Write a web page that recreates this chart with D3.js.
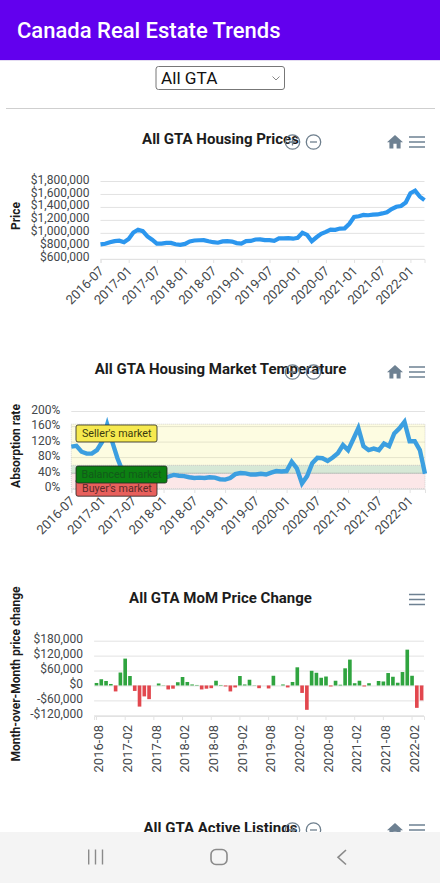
<!DOCTYPE html>
<html><head><meta charset="utf-8">
<script src="https://cdnjs.cloudflare.com/ajax/libs/d3/7.8.5/d3.min.js"></script>
<style>
html,body{margin:0;padding:0;background:#fff;overflow:hidden;width:440px;height:883px}
svg{display:block}
text{font-family:Roboto,sans-serif}
</style></head><body><svg id="c" width="440" height="883"></svg>
<script>
const appTitle="Canada Real Estate Trends", regionLabel="All GTA";
const priceMonths=["2016-07","2016-08","2016-09","2016-10","2016-11","2016-12","2017-01","2017-02","2017-03","2017-04","2017-05","2017-06","2017-07","2017-08","2017-09","2017-10","2017-11","2017-12","2018-01","2018-02","2018-03","2018-04","2018-05","2018-06","2018-07","2018-08","2018-09","2018-10","2018-11","2018-12","2019-01","2019-02","2019-03","2019-04","2019-05","2019-06","2019-07","2019-08","2019-09","2019-10","2019-11","2019-12","2020-01","2020-02","2020-03","2020-04","2020-05","2020-06","2020-07","2020-08","2020-09","2020-10","2020-11","2020-12","2021-01","2021-02","2021-03","2021-04","2021-05","2021-06","2021-07","2021-08","2021-09","2021-10","2021-11","2021-12","2022-01","2022-02","2022-03","2022-04"];
const lineTicks=["2016-07","2017-01","2017-07","2018-01","2018-07","2019-01","2019-07","2020-01","2020-07","2021-01","2021-07","2022-01"];
const barTicks=["2016-08","2017-02","2017-08","2018-02","2018-08","2019-02","2019-08","2020-02","2020-08","2021-02","2021-08","2022-02"];
const prices=[822,832,855,873,879,855,907,1005,1048,1026,946,895,835,835,846,845,825,815,830,868,882,886,888,870,856,848,868,872,866,842,834,872,876,898,900,888,888,876,914,914,918,910,925,1000,968,872,932,984,1014,1050,1046,1066,1070,1140,1244,1256,1276,1272,1282,1284,1300,1318,1368,1402,1415,1468,1612,1650,1560,1505];
const absorption=[108,110,95,90,90,99,120,165,120,78,45,30,28,26,25,26,24,25,27,31,35,33,32,29,27,28,27,29,28,24,23,27,37,40,39,36,36,38,36,41,45,44,45,69,52,13,32,65,79,78,71,80,91,112,99,127,156,109,99,103,99,116,109,142,155,172,122,122,99,38];
const momMonths=priceMonths.slice(1);
const mom=[10,25,18,6,-24,52,108,38,-22,-85,-44,-55,0,8,1,-16,-13,13,34,14,4,2,-16,-13,-11,19,2,-4,-24,-8,38,4,23,1,-11,0,-12,39,0,4,-8,14,73,-30,-98,59,51,31,36,-4,19,3,69,104,9,19,-4,9,0,18,16,50,35,11,54,144,39,-90,-60];
const priceTicks=[600000,800000,1000000,1200000,1400000,1600000,1800000];
const absTicks=[0,40,80,120,160,200];
const momTicks=[-120000,-60000,0,60000,120000,180000];
const bandNames=["Buyer's market","Balanced market","Seller's market"];
const bandLow=[0,39,60];
const bandHigh=[39,60,166];
const bandFill=["#fbe3e4","#cfe4cf","#fdfbdc"];
const labelFill=["#e8605c","#0c8012","#f6e94f"];

const svg=d3.select("#c");
const GRID="#e2e2e2", LABEL="#44484b", ICON="#6e8192";
const money=d=>(d<0?"-":"")+"$"+d3.format(",")(Math.abs(d));

svg.append("rect").attr("width",440).attr("height",60).attr("fill","#6200ee");
svg.append("rect").attr("y",60).attr("width",440).attr("height",1).attr("fill","#e4dcf2");
svg.append("text").attr("x",17).attr("y",38).attr("fill","#fff").attr("font-size",22).attr("font-weight",500).text(appTitle);
svg.append("rect").attr("x",156).attr("y",66.5).attr("width",128.5).attr("height",23).attr("rx",2.5).attr("fill","#fff").attr("stroke","#777");
svg.append("text").attr("x",161).attr("y",84).attr("font-size",17.2).attr("fill","#111").text(regionLabel);
svg.append("path").attr("d","M272.5 76.5l3.5 3.5 3.5-3.5").attr("fill","none").attr("stroke","#888");
svg.append("rect").attr("x",6).attr("y",108).attr("width",429).attr("height",1).attr("fill","#cfcfcf");

function icons(y,zoom,home){
  if(zoom){
    [292.5,313.5].forEach((x,i)=>{
      const g=svg.append("g").attr("transform",`translate(${x},${y})`).attr("fill","none").attr("stroke","#6e7f8d").attr("stroke-width",1.3);
      g.append("circle").attr("r",7.2);
      g.append("path").attr("d",i==0?"M-3.5 0H3.5M0 -3.5V3.5":"M-3.5 0H3.5");
    });
  }
  if(home) svg.append("path").attr("transform",`translate(385.4,${y-9.4}) scale(.8)`).attr("d","M10 20v-6h4v6h5v-8h3L12 3 2 12h3v8z").attr("fill",ICON);
  svg.append("path").attr("d",`M409 ${y-5}H425M409 ${y}H425M409 ${y+5}H425`).attr("stroke",ICON).attr("stroke-width",1.5);
}
function texts(title,x,y,ax,ay){
  svg.append("text").attr("x",x).attr("y",y).attr("text-anchor","middle").attr("font-size",15).attr("font-weight",700).attr("fill","#1c1c1c").text(title);
  if(ax) svg.append("text").attr("transform",`translate(20,${ay}) rotate(-90)`).attr("text-anchor","middle").attr("font-size",12).attr("font-weight",700).attr("fill","#1c1c1c").text(ax);
}
function yAxis(y,ticks,fmt,x0,x1,ly){
  const g=svg.append("g").attr("transform",`translate(${x0},0)`)
    .call(d3.axisLeft(y).tickValues(ticks).tickFormat(fmt).tickSize(-(x1-x0)).tickPadding(ly));
  g.select(".domain").remove();
  g.selectAll("line").attr("stroke",GRID).attr("stroke-width",1);
  g.selectAll("text").attr("font-size",12).attr("fill",LABEL).attr("font-family","Roboto").attr("dy","0.17em");
}
function xAxis(x,ticks,yPos,rot){
  const g=svg.append("g").attr("transform",`translate(0,${yPos})`)
    .call(d3.axisBottom(x).tickValues(ticks).tickSize(4));
  g.select(".domain").attr("stroke",GRID);
  g.selectAll("line").attr("stroke",GRID);
  g.selectAll("text").attr("font-size",13).attr("fill",LABEL).attr("font-family","Roboto")
    .attr("text-anchor","end")
    .attr("transform",rot==45?"translate(1,10) rotate(-45)":"translate(6.7,9) rotate(-90)")
    .attr("x",0).attr("y",0).attr("dy",rot==45?"0.3em":"0");
}
function line(x,y,vals,color,w){
  svg.append("path").datum(vals).attr("fill","none").attr("stroke",color).attr("stroke-width",w)
    .attr("stroke-linejoin","miter").attr("d",d3.line().x((d,i)=>x(priceMonths[i])).y(d=>y(d)));
}

/* Chart 1 */
{
  const x=d3.scalePoint().domain(priceMonths).range([100.5,424.5]);
  const y=d3.scaleLinear().domain([600000,1800000]).range([258.8,181]);
  texts("All GTA Housing Prices",220.5,144,"Price",216);
  yAxis(y,priceTicks,money,100.5,424.5,11);
  xAxis(x,lineTicks,259,45);
  line(x,y,prices.map(d=>d*1000),"#2b96ee",4.2);
  icons(142,true,true);
}
/* Chart 2 */
{
  const x=d3.scalePoint().domain(priceMonths).range([71.3,425]);
  const y=d3.scaleLinear().domain([0,200]).range([488.5,411]);
  texts("All GTA Housing Market Temperature",220.5,374,"Absorption rate",446);
  yAxis(y,absTicks,d=>d+"%",71.3,425,11);
  bandNames.forEach((n,i)=>{
    svg.append("rect").attr("x",71.3).attr("width",353.7).attr("y",y(bandHigh[i])).attr("height",y(bandLow[i])-y(bandHigh[i]))
      .attr("fill",bandFill[i]).attr("fill-opacity",.85).attr("stroke","#bbb").attr("stroke-opacity",.6).attr("stroke-dasharray","1 1");
  });
  absTicks.forEach(t=>{ if(t>0&&t<200) svg.append("rect").attr("x",71.3).attr("width",353.7).attr("y",y(t)-.5).attr("height",1).attr("fill","#000").attr("fill-opacity",.08); });
  xAxis(x,lineTicks,489,45);
  line(x,y,absorption,"#3c9fe0",4.4);
  const boxY=[y(24),y(58),y(166)+.8], boxW=[81,91,81], order=[0,2,1];
  order.forEach(i=>{
    svg.append("rect").attr("x",76).attr("y",boxY[i]).attr("width",boxW[i]).attr("height",17).attr("rx",2)
      .attr("fill",labelFill[i]).attr("stroke","#222").attr("stroke-width",.8);
    svg.append("text").attr("x",i==1?81.5:82).attr("y",boxY[i]+12.3).attr("font-size",10.7)
      .attr("fill",i==1?"#125a1a":i==0?"#5a2a2a":"#3a3a10").text(bandNames[i]);
  });
  icons(372,true,true);
}
/* Chart 3 */
{
  const x=d3.scaleBand().domain(momMonths).range([94.1,424]).paddingInner(.24).paddingOuter(.12);
  const y=d3.scaleLinear().domain([-120000,180000]).range([715.3,640.7]);
  texts("All GTA MoM Price Change",220.5,603,"Month-over-Month price change",674);
  yAxis(y,momTicks,money,94.1,424,11);
  xAxis(x,barTicks,716,90);
  svg.append("g").selectAll("rect").data(mom).join("rect")
    .attr("x",(d,i)=>x(momMonths[i])).attr("width",x.bandwidth())
    .attr("y",d=>y(Math.max(0,d*1000))).attr("height",d=>Math.abs(y(d*1000)-y(0)))
    .attr("fill",d=>d>=0?"#2fa43f":"#e2474e");
  icons(599.5,false,false);
}
/* Chart 4 (cut off by the navigation bar) */
texts("All GTA Active Listings",220.5,833);
icons(830,true,true);

/* Navigation bar */
svg.append("rect").attr("y",832).attr("width",440).attr("height",51).attr("fill","#f4f4f4");
svg.append("path").attr("d","M88.7 849.5V864.5M95.5 849.5V864.5M102.5 849.5V864.5").attr("stroke","#8a8a8a").attr("stroke-width",1.4).attr("fill","none");
svg.append("rect").attr("x",211).attr("y",849.5).attr("width",16).attr("height",15).attr("rx",5).attr("fill","none").attr("stroke","#8a8a8a").attr("stroke-width",1.6);
svg.append("path").attr("d","M346 850L338 857.3L346 864.5").attr("stroke","#8a8a8a").attr("stroke-width",1.6).attr("fill","none");
</script></body></html>
